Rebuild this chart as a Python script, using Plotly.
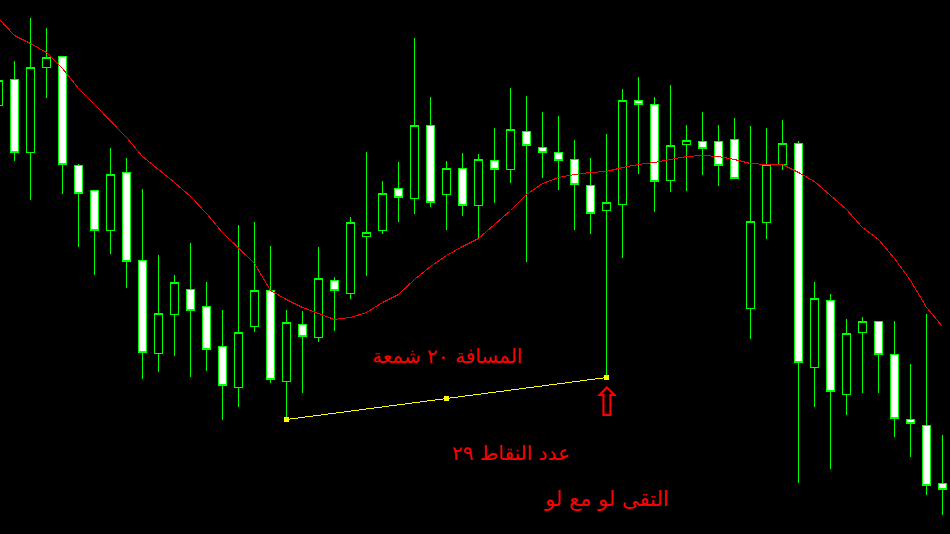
import plotly.graph_objects as go

# Candle index (bar number) and OHLC prices (in chart points)
bars = list(range(60))
opens = [429, 455, 382, 467, 478, 369, 344, 304, 362, 274, 181, 220, 245, 228, 188,
         147, 208, 244, 153, 210, 197, 254, 241, 298, 304, 346, 336, 409, 340, 366,
         329, 374, 365, 403, 387, 382, 375, 349, 324, 330, 434, 430, 354, 390, 393,
         393, 395, 226, 312, 370, 391, 167, 234, 140, 202, 213, 180, 115, 109, 51]
highs = [459, 474, 517, 507, 478, 371, 344, 387, 377, 346, 280, 260, 292, 253, 225,
         310, 313, 289, 225, 224, 288, 258, 318, 383, 354, 373, 497, 438, 374, 382,
         381, 407, 447, 439, 423, 419, 395, 377, 401, 446, 458, 438, 450, 410, 423,
         410, 417, 409, 407, 415, 394, 253, 241, 216, 218, 214, 214, 171, 221, 100]
lows = [424, 374, 335, 437, 341, 288, 260, 281, 247, 156, 163, 179, 158, 164, 115,
        128, 203, 152, 115, 142, 193, 204, 236, 259, 301, 313, 321, 328, 305, 319,
        296, 332, 352, 273, 357, 345, 305, 301, 157, 277, 361, 323, 343, 344, 360,
        349, 356, 196, 296, 365, 52, 128, 66, 120, 142, 142, 98, 78, 40, 20]
closes = [454, 382, 467, 477, 370, 341, 304, 360, 273, 182, 221, 252, 224, 185, 149,
          202, 244, 155, 212, 198, 256, 244, 312, 302, 341, 337, 409, 332, 366, 329,
          375, 365, 405, 389, 382, 374, 350, 321, 332, 434, 430, 353, 389, 394, 386,
          369, 356, 313, 370, 391, 172, 236, 143, 201, 213, 180, 116, 111, 49, 45]

# Moving average values
ma_values = [516, 499, 491, 482, 466, 446, 430, 414, 397, 378, 365, 352, 338, 321, 302,
             286, 271, 244, 235, 227, 221, 215, 217, 222, 232, 240, 255, 268, 279, 288,
             296, 310, 324, 340, 351, 357, 360, 362, 363, 367, 370, 372, 375, 378, 379,
             378, 375, 371, 370, 370, 362, 353, 339, 325, 307, 295, 276, 254, 227, 208]

# Trend line between two lows (with midpoint handle)
trend_bars = [18, 28, 38]
trend_prices = [115, 136, 157]

label_distance = "المسافة ٢٠ شمعة"
label_points = "عدد النقاط ٢٩"
label_meet = "التقى لو مع لو"

fig = go.Figure()

fig.add_trace(go.Candlestick(
    x=bars, open=opens, high=highs, low=lows, close=closes,
    increasing=dict(line=dict(color="#00ff00", width=1), fillcolor="#000000"),
    decreasing=dict(line=dict(color="#00ff00", width=1), fillcolor="#ffffff"),
    whiskerwidth=0,
    showlegend=False,
    hoverinfo="skip",
))

fig.add_trace(go.Scatter(
    x=bars, y=ma_values, mode="lines",
    line=dict(color="#ff0000", width=1),
    showlegend=False, hoverinfo="skip",
))

fig.add_trace(go.Scatter(
    x=trend_bars, y=trend_prices, mode="lines+markers",
    line=dict(color="#ffff00", width=1),
    marker=dict(symbol="square", size=5, color="#ffff00",
                line=dict(color="#ffff00", width=0)),
    showlegend=False, hoverinfo="skip",
))

font_ar = "DejaVu Sans, Noto Sans, sans-serif"
annos = [
    dict(x=28, y=179, text=label_distance, size=20),
    dict(x=32, y=82, text=label_points, size=20),
    dict(x=38, y=36, text=label_meet, size=21),
]
for a in annos:
    fig.add_annotation(x=a["x"], y=a["y"], text=a["text"], showarrow=False,
                       xref="x", yref="y",
                       font=dict(family=font_ar, size=a["size"], color="#ff0000"))

fig.add_annotation(x=38, y=133, text="⇧", showarrow=False, xref="x", yref="y",
                   font=dict(family="DejaVu Sans", size=40, color="#ff0000"))

fig.update_layout(
    width=950, height=534,
    margin=dict(l=0, r=0, t=0, b=0, pad=0),
    paper_bgcolor="#000000", plot_bgcolor="#000000",
    xaxis=dict(range=[0.09375, 59.46875], visible=False, rangeslider=dict(visible=False),
               showgrid=False, zeroline=False),
    yaxis=dict(range=[0.5, 534.5], visible=False, showgrid=False, zeroline=False),
    showlegend=False,
)

post = (
    "document.body.style.margin='0';"
    "document.body.style.background='#000';"
    "var s=document.createElement('style');"
    "s.innerHTML='svg path{shape-rendering:crispEdges}';"
    "document.head.appendChild(s);"
)

fig.write_html(
    "out.html",
    config={"displayModeBar": False},
    post_script=post,
)
